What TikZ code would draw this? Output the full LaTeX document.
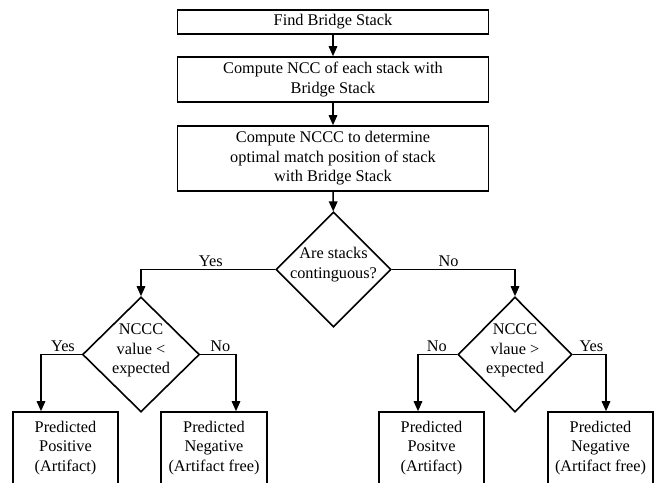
\documentclass[tikz,border=0pt]{standalone}
\usepackage{fontspec}
\setmainfont{Liberation Serif}
\usetikzlibrary{shapes.geometric,arrows.meta,calc}
\begin{document}
\begin{tikzpicture}[x=1pt,y=-1pt,
  font=\fontsize{16.3}{19.5}\selectfont,
  box/.style={draw,line width=1.6pt,rectangle,inner sep=0pt,align=center,minimum width=311pt},
  lowbox/.style={draw,line width=1.6pt,rectangle,inner sep=0pt,align=center,minimum height=72pt},
  dia/.style={draw,line width=1.6pt,diamond,inner sep=0pt,minimum height=115pt},
  arr/.style={line width=1.6pt,-{Triangle[length=10pt,width=8.5pt]}},
  lab/.style={above,inner sep=2pt}]
\useasboundingbox (0,0) rectangle (658,482);
\clip (0,0) rectangle (658,482);
\node[box,minimum height=24pt] (b1) at (333,22) {Find Bridge Stack};
\node[box,minimum height=45pt] (b2) at (333,79.5) {Compute NCC of each stack with\\Bridge Stack};
\node[box,minimum height=65pt] (b3) at (333,158.5) {Compute NCCC to determine\\optimal match position of stack\\with Bridge Stack};
\node[dia,minimum width=115pt,label={[align=center,yshift=5pt]center:Are stacks\\continguous?}] (d1) at (333.5,269.5) {};
\node[dia,minimum width=117pt,label={[align=center,yshift=4pt]center:NCCC\\value <\\expected}] (d2) at (141,354.5) {};
\node[dia,minimum width=114pt,label={[align=center,yshift=4pt]center:NCCC\\vlaue >\\expected}] (d3) at (515,354.5) {};
\node[lowbox,minimum width=105pt] (pA) at (65.5,448) {Predicted\\Positive\\(Artifact)};
\node[lowbox,minimum width=106pt] (pB) at (214,448) {Predicted\\Negative\\(Artifact free)};
\node[lowbox,minimum width=105pt] (pC) at (431.5,448) {Predicted\\Positve\\(Artifact)};
\node[lowbox,minimum width=105pt] (pD) at (600.5,448) {Predicted\\Negative\\(Artifact free)};
\draw[arr] (b1) -- (b2);
\draw[arr] (b2) -- (b3);
\draw[arr] (b3) -- (d1);
\draw[arr] (d1.west) -| node[lab,pos=0.24] {Yes} (d2.north);
\draw[arr] (d1.east) -| node[lab,pos=0.23] {No} (d3.north);
\draw[arr] (d2.west) -| node[lab,pos=0.23] {Yes} ([xshift=-24.5pt]pA.north);
\draw[arr] (d2.east) -| node[lab,pos=0.28] {No} ([xshift=22pt]pB.north);
\draw[arr] (d3.west) -| node[lab,pos=0.26] {No} ([xshift=-13.5pt]pC.north);
\draw[arr] (d3.east) -| node[lab,pos=0.28] {Yes} ([xshift=5.5pt]pD.north);
\end{tikzpicture}
\end{document}
